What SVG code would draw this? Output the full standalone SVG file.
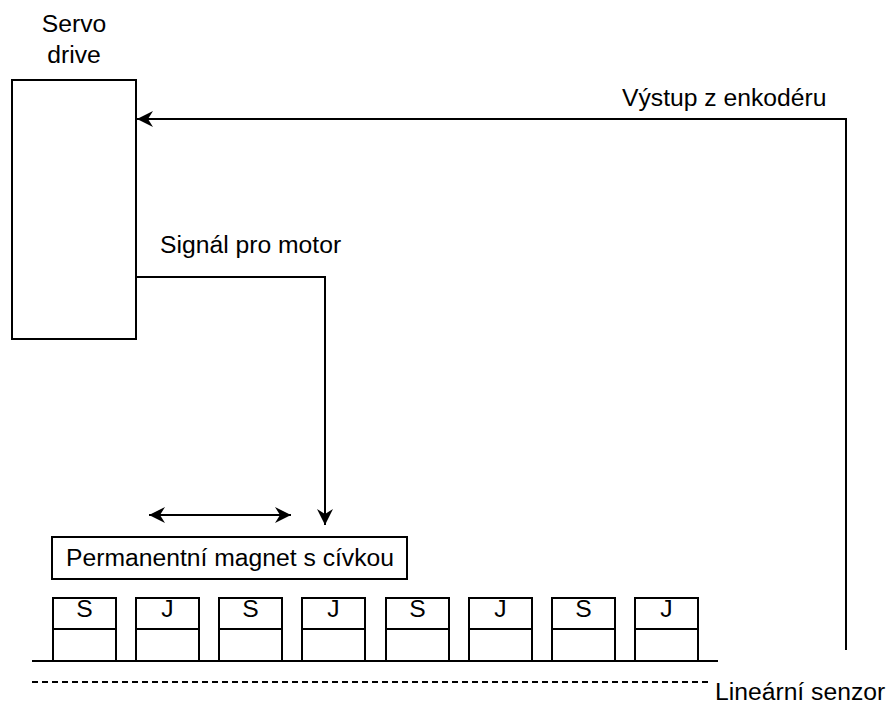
<svg xmlns="http://www.w3.org/2000/svg" width="891" height="704" viewBox="0 0 891 704">
<defs>
<marker id="arr" markerUnits="userSpaceOnUse" markerWidth="18" markerHeight="16" refX="16" refY="8" orient="auto-start-reverse">
<path d="M0,0 L16,8 L0,16 L5,8 Z" fill="#000"/>
</marker>
</defs>
<style>
.ln{fill:none;stroke:#000;stroke-width:2}
.bx{fill:#fff;stroke:#000;stroke-width:2}
text{font-family:"Liberation Sans",Arial,sans-serif;font-size:24.7px;fill:#000}
.c{text-anchor:middle}
</style>
<rect width="891" height="704" fill="#fff"/>
<g id="connectors">
<path class="ln" d="M846,650 L846,119 L137,119" marker-end="url(#arr)"/>
<path class="ln" d="M137,277 L325,277 L325,525" marker-end="url(#arr)"/>
<path class="ln" d="M149,515 L291,515" marker-start="url(#arr)" marker-end="url(#arr)"/>
</g>
<g id="servo-drive">
<rect class="bx" x="12" y="80" width="124" height="259"/>
<text class="c" x="74" y="32">Servo</text>
<text class="c" x="74" y="63">drive</text>
</g>
<g id="label-vystup"><text x="622" y="106">Výstup z enkodéru</text></g>
<g id="label-signal"><text x="160" y="253">Signál pro motor</text></g>
<g id="magnet-coil">
<rect class="bx" x="52" y="537" width="355" height="42"/>
<text class="c" x="230" y="566">Permanentní magnet s cívkou</text>
</g>
<g id="track">
<g id="m1"><rect class="bx" x="53" y="598" width="63" height="63"/><line class="ln" x1="53" y1="629" x2="116" y2="629"/><text class="c" x="84.5" y="617">S</text></g>
<g id="m2"><rect class="bx" x="136" y="598" width="63" height="63"/><line class="ln" x1="136" y1="629" x2="199" y2="629"/><text class="c" x="167.5" y="617">J</text></g>
<g id="m3"><rect class="bx" x="219" y="598" width="63" height="63"/><line class="ln" x1="219" y1="629" x2="282" y2="629"/><text class="c" x="250.5" y="617">S</text></g>
<g id="m4"><rect class="bx" x="302" y="598" width="63" height="63"/><line class="ln" x1="302" y1="629" x2="365" y2="629"/><text class="c" x="333.5" y="617">J</text></g>
<g id="m5"><rect class="bx" x="386" y="598" width="63" height="63"/><line class="ln" x1="386" y1="629" x2="449" y2="629"/><text class="c" x="417.5" y="617">S</text></g>
<g id="m6"><rect class="bx" x="469" y="598" width="63" height="63"/><line class="ln" x1="469" y1="629" x2="532" y2="629"/><text class="c" x="500.5" y="617">J</text></g>
<g id="m7"><rect class="bx" x="552" y="598" width="63" height="63"/><line class="ln" x1="552" y1="629" x2="615" y2="629"/><text class="c" x="583.5" y="617">S</text></g>
<g id="m8"><rect class="bx" x="635" y="598" width="63" height="63"/><line class="ln" x1="635" y1="629" x2="698" y2="629"/><text class="c" x="666.5" y="617">J</text></g>
<line class="ln" x1="32" y1="661" x2="718" y2="661"/>
</g>
<g id="linear-sensor">
<line class="ln" x1="32" y1="682" x2="712" y2="682" stroke-dasharray="6 4"/>
<text x="715" y="700">Lineární senzor</text>
</g>
</svg>
